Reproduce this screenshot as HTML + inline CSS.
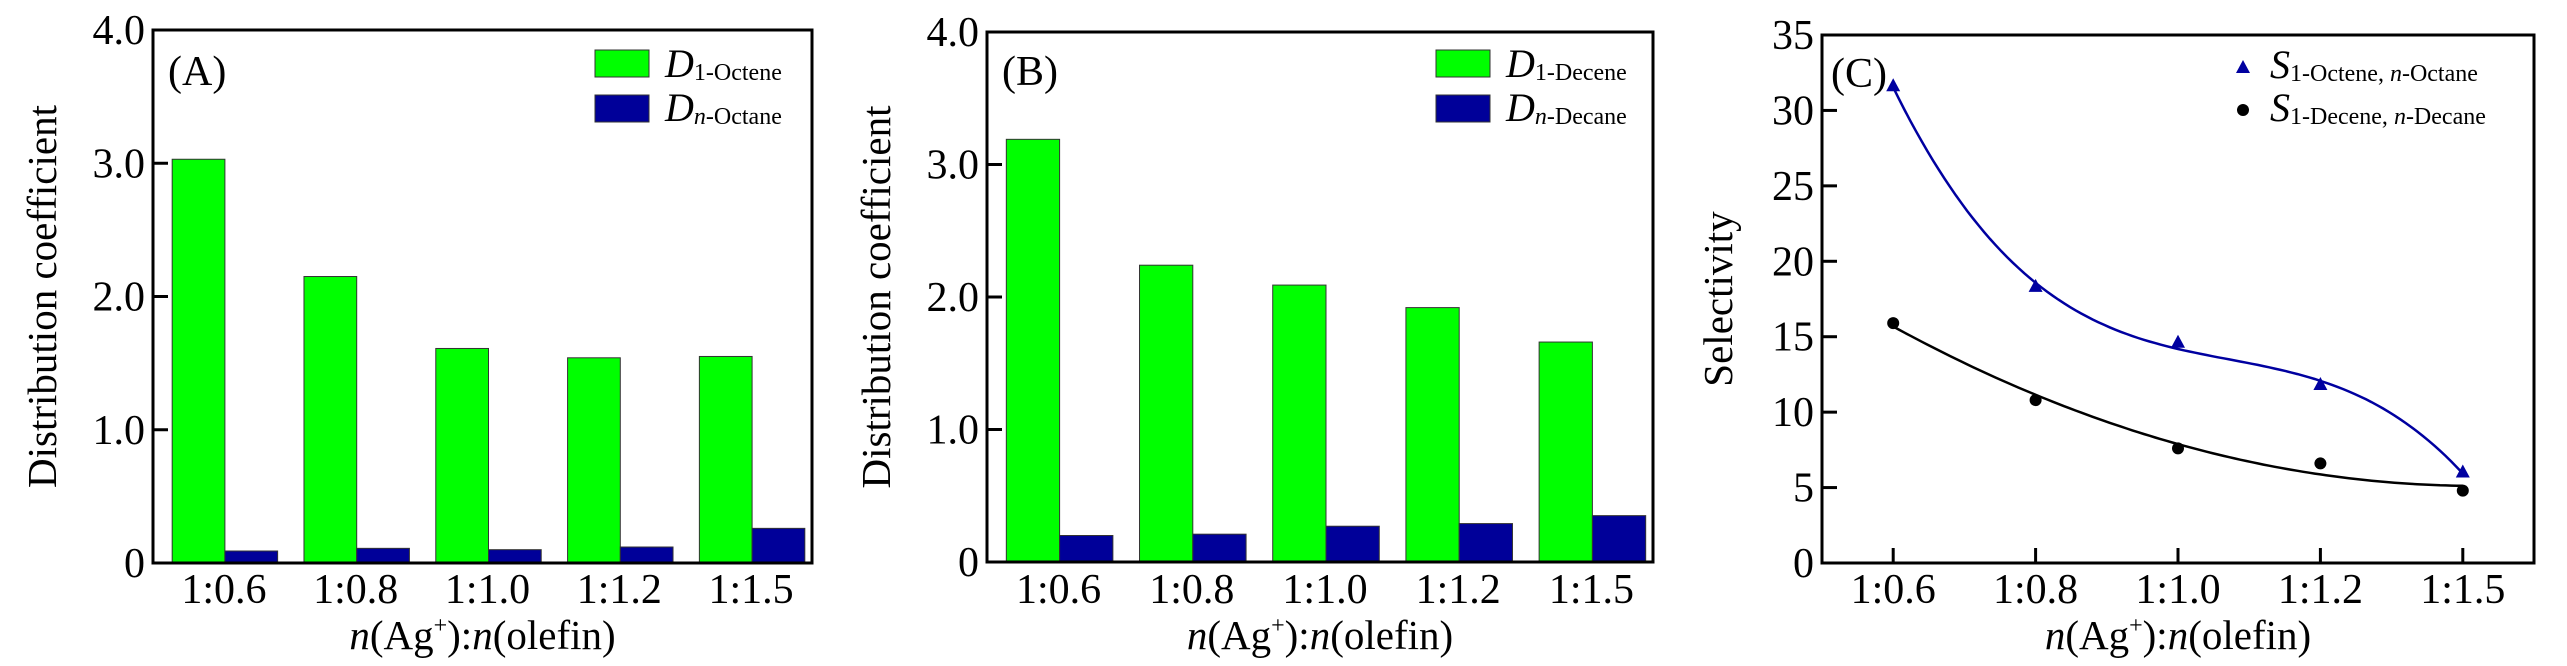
<!DOCTYPE html>
<html><head><meta charset="utf-8"><style>
html,body{margin:0;padding:0;background:#fff;}
svg, svg text{font-family:"Liberation Serif","Times New Roman",serif;}
</style></head><body>
<svg id="chart" width="2567" height="661" viewBox="0 0 2567 661" font-family="Liberation Serif, serif" xmlns="http://www.w3.org/2000/svg"></svg>
<script>
const categories = ["1:0.6","1:0.8","1:1.0","1:1.2","1:1.5"];
const octeneD = [3.03, 2.15, 1.61, 1.54, 1.55];
const octaneD = [0.09, 0.11, 0.10, 0.12, 0.26];
const deceneD = [3.19, 2.24, 2.09, 1.92, 1.66];
const decaneD = [0.20, 0.21, 0.27, 0.29, 0.35];
const selOct = [31.6, 18.3, 14.6, 11.8, 6.0];
const selDec = [15.9, 10.8, 7.6, 6.6, 4.8];
const barTicks = [0, 1, 2, 3, 4];
const barTickLabels = ["0","1.0","2.0","3.0","4.0"];
const selTicks = [0,5,10,15,20,25,30,35];
const selTickLabels = ["0","5","10","15","20","25","30","35"];

const NS = "http://www.w3.org/2000/svg";
const svg = document.getElementById('chart');
function mk(tag, attrs, parent, text){
  const e = document.createElementNS(NS, tag);
  for (const k in attrs) e.setAttribute(k, attrs[k]);
  if (tag === 'text') e.setAttribute('font-family', 'Liberation Serif, serif');
  if (text !== undefined) e.textContent = text;
  (parent||svg).appendChild(e);
  return e;
}
function tspanText(parent, parts){
  parts.forEach(p=>{ const t=document.createElementNS(NS,'tspan'); for(const k in p.a||{}) t.setAttribute(k,p.a[k]); t.textContent=p.t; parent.appendChild(t); });
}

function axesFrame(g, L, R, T, B, ticks, labels, yScale, ymax, title, titleX){
  const frame = mk('rect',{x:L,y:T,width:R-L,height:B-T,fill:'none',stroke:'#000','stroke-width':3},g);
  
  
  ticks.forEach((v,i)=>{
    const y = yScale(v);
    if (v>0 && v<ymax){
      const tk = mk('line',{x1:L,x2:L+15,y1:y,y2:y,stroke:'#000','stroke-width':3},g);
      
      
    }
    const tl = mk('text',{x:L-8,y:y+14,'text-anchor':'end','font-size':42},g,labels[i]);
    
    
  });
  const cx = (L+R)/2;
  const yt = mk('text',{x:titleX,y:(T+B)/2,'text-anchor':'middle','font-size':41,transform:`rotate(-90 ${titleX} ${(T+B)/2})`},g,title);
  
  
  const xt = mk('text',{x:cx,y:649,'text-anchor':'middle','font-size':41},g);
  
  
  tspanText(xt,[{t:'n','a':{'font-style':'italic'}},{t:'(Ag'},{t:'+',a:{'font-size':24,dy:-16}},{t:'):',a:{dy:16}},{t:'n',a:{'font-style':'italic'}},{t:'(olefin)'}]);
}

function barPanel(name, L, R, T, B, g1, g2, letter, sub1, sub2){
  const g = mk('g',{});
  
  
  const yScale = v => B - v/4*(B-T);
  const pitch = (R-L)/categories.length;
  const bw = pitch*0.4;
  categories.forEach((c,i)=>{
    const join = L + pitch*(i+0.5) + 6;
    const r1 = mk('rect',{x:join-bw,y:yScale(g1[i]),width:bw,height:B-yScale(g1[i]),fill:'#00ff00',stroke:'#333','stroke-width':1},g);
    
    
    const r2 = mk('rect',{x:join,y:yScale(g2[i]),width:bw,height:B-yScale(g2[i]),fill:'#000099',stroke:'#333','stroke-width':1},g);
    
    
    const xl = mk('text',{x:L+pitch*(i+0.5)+5,y:603,'text-anchor':'middle','font-size':42},g,c);
    
    
  });
  axesFrame(g,L,R,T,B,barTicks,barTickLabels,yScale,4,'Distribution coefficient',L-97);
  const pl = mk('text',{x:L+15,y:85,'font-size':42},g,'('+letter+')');
  
  
  const lx = R-217;
  const s1 = mk('rect',{x:lx,y:50,width:54,height:27,fill:'#00ff00',stroke:'#333','stroke-width':1},g);
  
  
  const s2 = mk('rect',{x:lx,y:95,width:54,height:27,fill:'#000099',stroke:'#333','stroke-width':1},g);
  
  
  const t1 = mk('text',{x:lx+70,y:77,'font-size':40},g);
  
  
  tspanText(t1,[{t:'D',a:{'font-style':'italic'}},{t:sub1,a:{'font-size':24,dy:3}}]);
  const t2 = mk('text',{x:lx+70,y:121,'font-size':40},g);
  
  
  tspanText(t2,[{t:'D',a:{'font-style':'italic'}},{t:'n',a:{'font-size':24,dy:3,'font-style':'italic'}},{t:sub2,a:{'font-size':24}}]);
}
barPanel('panel-a',153,812,30,563,octeneD,octaneD,'A','1-Octene','-Octane');
barPanel('panel-b',987,1653,32,562,deceneD,decaneD,'B','1-Decene','-Decane');

function polyfit(xs, ys, deg){
  const n=deg+1, A=[...Array(n)].map(()=>Array(n+1).fill(0));
  for(let r=0;r<n;r++){for(let c=0;c<n;c++){A[r][c]=xs.reduce((s,x)=>s+Math.pow(x,r+c),0);}A[r][n]=xs.reduce((s,x,i)=>s+ys[i]*Math.pow(x,r),0);}
  for(let i=0;i<n;i++){let p=i;for(let k=i+1;k<n;k++)if(Math.abs(A[k][i])>Math.abs(A[p][i]))p=k;[A[i],A[p]]=[A[p],A[i]];
    for(let k=0;k<n;k++){if(k===i)continue;const f=A[k][i]/A[i][i];for(let j=i;j<=n;j++)A[k][j]-=f*A[i][j];}}
  return A.map((r,i)=>r[n]/r[i]);
}
(function(){
  const L=1822,R=2534,T=35,B=563;
  const g = mk('g',{});
  
  
  const yScale = v => B - v/35*(B-T);
  const pitch=(R-L)/categories.length;
  const xScale = i => L + pitch*(i+0.5);
  categories.forEach((c,i)=>{
    const tk = mk('line',{x1:xScale(i),x2:xScale(i),y1:B,y2:B-15,stroke:'#000','stroke-width':3},g);
    
    
    const xl = mk('text',{x:xScale(i),y:603,'text-anchor':'middle','font-size':42},g,c);
    
    
  });
  axesFrame(g,L,R,T,B,selTicks,selTickLabels,yScale,35,'Selectivity',L-90);
  const idx=[0,1,2,3,4];
  [[selOct,'#0000a0',3,'octene'],[selDec,'#000',2,'decene']].forEach(([ys,col,deg,nm])=>{
    const co=polyfit(idx,ys,deg);
    let d='';
    for(let k=0;k<=100;k++){const x=4*k/100;const y=co.reduce((s,c,j)=>s+c*Math.pow(x,j),0);d+=(k?'L':'M')+(L+pitch*(x+0.5)).toFixed(1)+','+yScale(y).toFixed(1);}
    const p = mk('path',{d:d,fill:'none',stroke:col,'stroke-width':2.5},g);
    
    
  });
  selOct.forEach((v,i)=>{
    const x=xScale(i), y=yScale(v);
    const m = mk('polygon',{points:`${x},${y-8} ${x-7},${y+5} ${x+7},${y+5}`,fill:'#0000a0'},g);
    
    
  });
  selDec.forEach((v,i)=>{
    const m = mk('circle',{cx:xScale(i),cy:yScale(v),r:6,fill:'#000'},g);
    
    
  });
  const pl = mk('text',{x:L+9,y:87,'font-size':42},g,'(C)');
  
  
  const lm1 = mk('polygon',{points:'2243,60 2236,73 2250,73',fill:'#0000a0'},g);
  
  
  const lm2 = mk('circle',{cx:2243,cy:110,r:6,fill:'#000'},g);
  
  
  const t1 = mk('text',{x:2270,y:78,'font-size':40},g);
  
  
  tspanText(t1,[{t:'S',a:{'font-style':'italic'}},{t:'1-Octene, ',a:{'font-size':24,dy:3}},{t:'n',a:{'font-size':24,'font-style':'italic'}},{t:'-Octane',a:{'font-size':24}}]);
  const t2 = mk('text',{x:2270,y:121,'font-size':40},g);
  
  
  tspanText(t2,[{t:'S',a:{'font-style':'italic'}},{t:'1-Decene, ',a:{'font-size':24,dy:3}},{t:'n',a:{'font-size':24,'font-style':'italic'}},{t:'-Decane',a:{'font-size':24}}]);
})();
</script>
</body></html>
